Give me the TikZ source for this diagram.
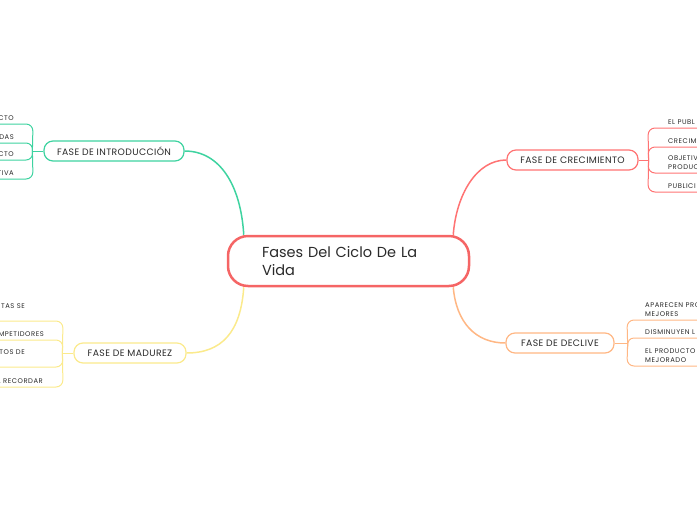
\documentclass[tikz,border=0pt]{standalone}
\usepackage{fontspec}
\setmainfont{Poppins}
\newfontfamily\fasefont[LetterSpace=4]{Poppins}
\newfontfamily\hojafont[LetterSpace=8]{Poppins}
\usetikzlibrary{calc}
\definecolor{cRed}{HTML}{F56565}
\definecolor{cTeal}{HTML}{3ED3A0}
\definecolor{cSalmon}{HTML}{FF7373}
\definecolor{cYellow}{HTML}{FBEA8C}
\definecolor{cOrange}{HTML}{FFB784}
\definecolor{cText}{HTML}{2A2A2A}

\begin{document}
\begin{tikzpicture}[x=1pt, y=-1pt, every node/.style={text=cText},
      fase/.style={draw, fill=white, line width=1.2pt, rounded corners=9pt, minimum height=20pt,
        inner xsep=0pt, font=\fasefont\fontsize{9.3}{11}\selectfont},
      hoja/.style={inner ysep=3pt, align=left, font=\hojafont\fontsize{6.8}{9}\selectfont},
      hojaL/.style={hoja, anchor=south east},
      hojaR/.style={hoja, anchor=south west},
      rama/.style={line width=1.5pt},
      sub/.style={line width=1pt, rounded corners=7pt}]
    \useasboundingbox (0,0) rectangle (697,520);
    % ramas principales
    \node[draw=cRed, fill=white, line width=2.5pt, rounded corners=20pt, minimum width=241pt,
      minimum height=50pt, text width=173pt, inner xsep=34pt, align=left,
      font=\fontsize{14.5}{18}\selectfont] (cen) at (348.5,261) {Fases Del Ciclo De La\\Vida};
    \node[fase, draw=cTeal,   minimum width=140pt] (intro) at (114,151)   {FASE DE INTRODUCCIÓN};
    \node[fase, draw=cSalmon, minimum width=131pt] (crec)  at (572.5,160) {FASE DE CRECIMIENTO};
    \node[fase, draw=cYellow, minimum width=112pt] (madu)  at (130,353)   {FASE DE MADUREZ};
    \node[fase, draw=cOrange, minimum width=108pt] (decl)  at (560,343)   {FASE DE DECLIVE};
    \draw[rama, cTeal]   ([xshift=17pt]cen.north west)  .. controls +(-3,-50) and +(35,0)  .. (intro.east);
    \draw[rama, cSalmon] ([xshift=-17pt]cen.north east) .. controls +(3,-40)  and +(-30,0) .. (crec.west);
    \draw[rama, cYellow] ([xshift=17pt]cen.south west)  .. controls +(-3,45)  and +(35,0)  .. (madu.east);
    \draw[rama, cOrange] ([xshift=-17pt]cen.south east) .. controls +(3,35)   and +(-30,0) .. (decl.west);
    % introduccion
    \coordinate (ji) at ([xshift=-11pt]intro.west);
    \draw[sub, cTeal] (intro.west) -- (ji);
    \node[hojaL, inner xsep=19pt] (i1) at (33,124) {CTO};
    \node[hojaL, inner xsep=19pt] (i2) at (33,143) {DAS};
    \node[hojaL, inner xsep=19pt] (i3) at (33,160) {CTO};
    \node[hojaL, inner xsep=19pt] (i4) at (33,179) {TIVA};
    \draw[sub, cTeal] (ji) -- (i1.south east) -- (i1.south west);
    \draw[sub, cTeal] (ji) -- (i2.south east) -- (i2.south west);
    \draw[sub, cTeal] (ji) -- (i3.south east) -- (i3.south west);
    \draw[sub, cTeal] (ji) -- (i4.south east) -- (i4.south west);
    % crecimiento
    \coordinate (jc) at ([xshift=10pt]crec.east);
    \draw[sub, cSalmon] (crec.east) -- (jc);
    \node[hojaR, inner xsep=20pt] (c1) at (648,128) {EL PUBL};
    \node[hojaR, inner xsep=20pt] (c2) at (648,147) {CRECIM};
    \node[hojaR, inner xsep=20pt] (c3) at (648,173) {OBJETIV\\PRODUC};
    \node[hojaR, inner xsep=20pt] (c4) at (648,192) {PUBLICI};
    \draw[sub, cSalmon] (jc) -- (c1.south west) -- (c1.south east);
    \draw[sub, cSalmon] (jc) -- (c2.south west) -- (c2.south east);
    \draw[sub, cSalmon] (jc) -- (c3.south west) -- (c3.south east);
    \draw[sub, cSalmon] (jc) -- (c4.south west) -- (c4.south east);
    % madurez
    \coordinate (jm) at ([xshift=-11pt]madu.west);
    \draw[sub, cYellow] (madu.west) -- (jm);
    \node[hojaL, inner xsep=38pt, inner ysep=12pt] (m1) at (63,321) {ITAS SE};
    \node[hojaL, inner xsep=19pt] (m2) at (63,340) {MPETIDORES};
    \node[hojaL, inner xsep=38pt, inner ysep=12pt] (m3) at (63,367) {TOS DE};
    \node[hojaL, inner xsep=20pt] (m4) at (63,387) {A RECORDAR};
    \draw[sub, cYellow] (jm) -- (m1.south east) -- (m1.south west);
    \draw[sub, cYellow] (jm) -- (m2.south east) -- (m2.south west);
    \draw[sub, cYellow] (jm) -- (m3.south east) -- (m3.south west);
    \draw[sub, cYellow] (jm) -- (m4.south east) -- (m4.south west);
    % declive
    \coordinate (jd) at ([xshift=13pt]decl.east);
    \draw[sub, cOrange] (decl.east) -- (jd);
    \node[hojaR, inner xsep=18pt] (d1) at (627,320) {APARECEN PRO\\MEJORES};
    \node[hojaR, inner xsep=18pt] (d2) at (627,338) {DISMINUYEN L};
    \node[hojaR, inner xsep=18pt] (d3) at (627,366) {EL PRODUCTO\\MEJORADO};
    \draw[sub, cOrange] (jd) -- (d1.south west) -- (d1.south east);
    \draw[sub, cOrange] (jd) -- (d2.south west) -- (d2.south east);
    \draw[sub, cOrange] (jd) -- (d3.south west) -- (d3.south east);
\end{tikzpicture}
\end{document}
